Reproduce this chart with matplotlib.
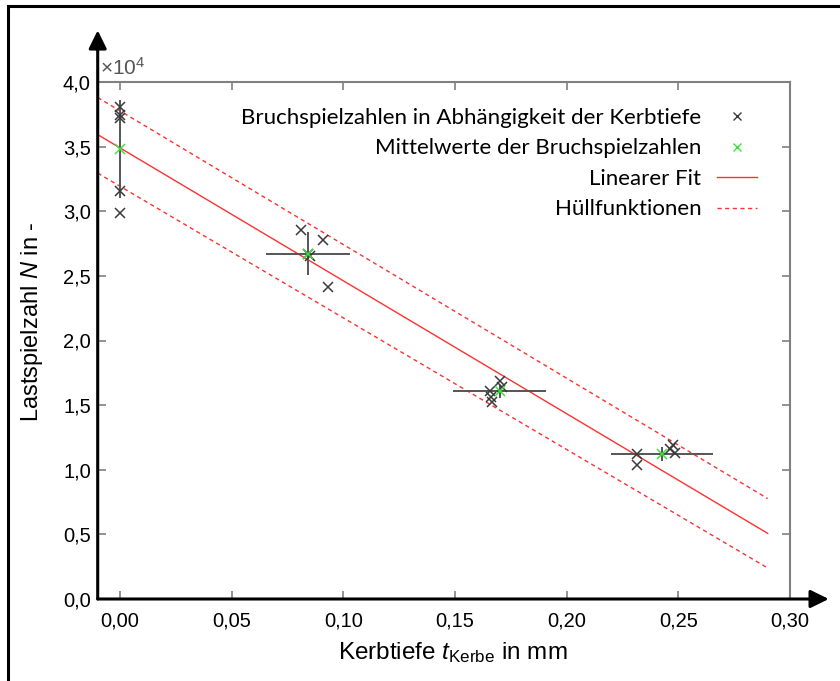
import numpy as np
import matplotlib
matplotlib.use("Agg")
import matplotlib.pyplot as plt
from matplotlib.patches import Rectangle
from matplotlib.ticker import FuncFormatter
from matplotlib.lines import Line2D

plt.rcParams["font.family"] = ["Liberation Sans", "DejaVu Sans"]
plt.rcParams["mathtext.fontset"] = "custom"
plt.rcParams["mathtext.rm"] = "Liberation Sans"
plt.rcParams["mathtext.it"] = "Liberation Sans:italic"

# --- Daten (Lastspielzahl in 10^4) ---
pts_t = [0.000, 0.000, 0.000, 0.000, 0.000,
         0.081, 0.091, 0.093, 0.084, 0.085,
         0.170, 0.1658, 0.1662, 0.1666, 0.171,
         0.2314, 0.2317, 0.2478, 0.2485, 0.2463]
pts_n = [3.81, 3.745, 3.72, 3.16, 2.99,
         2.852, 2.78, 2.415, 2.67, 2.65,
         1.683, 1.609, 1.565, 1.525, 1.64,
         1.12, 1.035, 1.189, 1.133, 1.164]

mean_t = [0.000, 0.0843, 0.170, 0.2426]
mean_n = [3.48, 2.672, 1.607, 1.125]
err_t = [0.0, 0.0188, 0.0209, 0.0229]
err_n = [0.379, 0.166, 0.05, 0.054]

fit_t = [-0.01, 0.29]
fit_n = [3.593, 0.508]
upper_n = [3.88, 0.777]
lower_n = [3.295, 0.24]

fig = plt.figure(figsize=(8.4, 6.81), dpi=100)
ax = fig.add_axes([97.7 / 840, 82 / 681, 692.3 / 840, 517 / 681])

red = "#ff3030"
dash = (0, (3, 2.5))
ax.plot(fit_t, fit_n, color=red, lw=1.0, zorder=2)
ax.plot(fit_t, upper_n, color=red, lw=1.0, ls=dash, zorder=2)
ax.plot(fit_t, lower_n, color=red, lw=1.0, ls=dash, zorder=2)

ax.errorbar(mean_t, mean_n, xerr=err_t, yerr=err_n, fmt="none",
            ecolor="#555555", elinewidth=1.4, capsize=0, zorder=3)
ax.plot(pts_t, pts_n, ls="none", marker="x", ms=7, mew=1.1,
        color="#3a3a3a", zorder=4)
ax.plot(mean_t, mean_n, ls="none", marker="x", ms=7, mew=1.1,
        color="#40e040", zorder=5)

ax.set_xlim(-0.01, 0.30)
ax.set_ylim(0, 4.0)
ax.set_xticks(np.arange(0, 0.31, 0.05))
ax.set_yticks(np.arange(0, 4.01, 0.5))
ax.xaxis.set_major_formatter(FuncFormatter(lambda v, p: f"{v:.2f}".replace(".", ",")))
ax.yaxis.set_major_formatter(FuncFormatter(lambda v, p: f"{v:.1f}".replace(".", ",")))
ax.tick_params(direction="in", length=6, width=1.2, color="#808080",
               labelsize=14.5, top=True, right=True)
ax.tick_params(axis="x", pad=9)
ax.tick_params(axis="y", pad=5)

for s in ["top", "right"]:
    ax.spines[s].set_color("#808080")
    ax.spines[s].set_linewidth(1.5)
for s in ["left", "bottom"]:
    ax.spines[s].set_visible(False)

# Achsen mit Pfeilen
arrow = dict(arrowstyle="-|>,head_length=0.55,head_width=0.27", lw=2.2,
             color="black", mutation_scale=20, shrinkA=0, shrinkB=0)
ax.annotate("", xy=(0, 1.1), xytext=(0, 0), xycoords="axes fraction",
            textcoords="axes fraction", arrowprops=arrow, annotation_clip=False)
ax.annotate("", xy=(1.056, 0), xytext=(0, 0), xycoords="axes fraction",
            textcoords="axes fraction", arrowprops=arrow, annotation_clip=False)

ax.text(0.003, 1.006, r"$\times$10$^4$", transform=ax.transAxes,
        fontsize=15, color="#555555", ha="left", va="bottom")

fig.text(32 / 840, 1 - 322 / 681, r"Lastspielzahl $N$ in -", rotation=90,
         fontsize=17, ha="center", va="center")
fig.text(453 / 840, 1 - 653 / 681, r"Kerbtiefe $t_{\mathrm{Kerbe}}$ in mm",
         fontsize=17.5, ha="center", va="center")

handles = [
    Line2D([], [], ls="none", marker="x", ms=6, mew=1.0, color="#3a3a3a"),
    Line2D([], [], ls="none", marker="x", ms=6, mew=1.0, color="#40e040"),
    Line2D([], [], color=red, lw=1.0),
    Line2D([], [], color=red, lw=1.0, ls=dash),
]
labels = ["Bruchspielzahlen in Abhängigkeit der Kerbtiefe",
          "Mittelwerte der Bruchspielzahlen",
          "Linearer Fit",
          "Hüllfunktionen"]
ax.legend(handles, labels, markerfirst=False, frameon=False,
          loc="upper right", bbox_to_anchor=(757 / 840, 1 - 108 / 681),
          bbox_transform=fig.transFigure, prop={"family": "Lato", "size": 16},
          handlelength=1.8, handletextpad=0.7, labelspacing=0.47,
          borderpad=0, borderaxespad=0)

fig.add_artist(Rectangle((8 / 840, -0.05), 1.2, 1.05 - 6 / 681,
                         transform=fig.transFigure, fill=False,
                         lw=2.2, edgecolor="black"))

fig.savefig("out.png", dpi=100)
